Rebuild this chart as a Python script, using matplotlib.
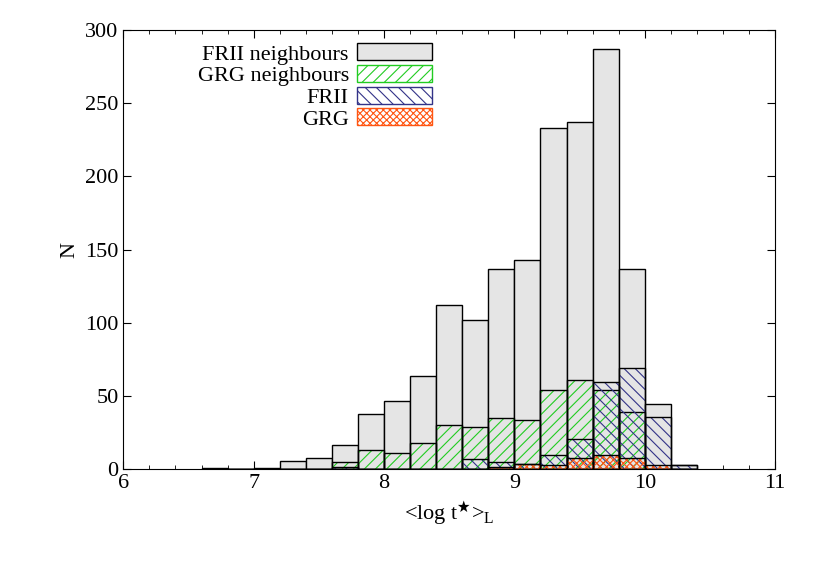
import matplotlib
matplotlib.use("Agg")
import matplotlib.pyplot as plt
import numpy as np
from matplotlib.patches import Patch

plt.rcParams['font.family'] = ['Liberation Serif', 'DejaVu Serif']
plt.rcParams['mathtext.fontset'] = 'custom'
plt.rcParams['mathtext.rm'] = 'Liberation Serif'
plt.rcParams['hatch.linewidth'] = 0.8

bin_left = [6.6, 6.8, 7.0, 7.2, 7.4, 7.6, 7.8, 8.0, 8.2, 8.4, 8.6, 8.8, 9.0, 9.2, 9.4, 9.6, 9.8, 10.0, 10.2]
frii_neigh = [1, 0, 1, 6, 8, 17, 38, 47, 64, 112, 102, 137, 143, 233, 237, 287, 137, 45, 3]
grg_neigh = [0, 0, 0, 0, 0, 5, 13, 11, 18, 30, 29, 35, 34, 54, 61, 54, 39, 0, 0]
frii = [0, 0, 0, 0, 0, 2, 0, 0, 0, 0, 7, 5, 4, 10, 21, 60, 69, 36, 3]
grg = [0, 0, 0, 0, 0, 0, 0, 0, 0, 0, 0, 2, 4, 3, 8, 10, 8, 3, 0]

w = 0.2
fig, ax = plt.subplots(figsize=(8.22, 5.76), dpi=100)
fig.subplots_adjust(left=0.15, right=0.943, top=0.948, bottom=0.185)

ax.bar(bin_left, frii_neigh, width=w, align='edge', color='#e5e5e5', edgecolor='black', linewidth=1.0)
for vals, hatch, col in [(grg_neigh, '///', '#22cc22'), (frii, '\\\\\\', '#333388'), (grg, 'xxxxx', '#ff5511')]:
    ax.bar(bin_left, vals, width=w, align='edge', color='none', edgecolor=col, hatch=hatch, linewidth=0)
    ax.bar(bin_left, vals, width=w, align='edge', color='none', edgecolor='black', linewidth=1.0)

handles = [
    Patch(facecolor='#e5e5e5', edgecolor='black', label='FRII neighbours'),
    Patch(facecolor='white', edgecolor='#22cc22', hatch='///', label='GRG neighbours'),
    Patch(facecolor='white', edgecolor='#333388', hatch='\\\\\\', label='FRII'),
    Patch(facecolor='white', edgecolor='#ff5511', hatch='xxxxx', label='GRG'),
]
ax.legend(handles=handles, loc='upper left', bbox_to_anchor=(0.09, 1.005), markerfirst=False,
          frameon=False, fontsize=16, handlelength=3.4, handleheight=0.8,
          labelspacing=0.02, handletextpad=0.35, borderaxespad=0.3)

ax.set_xlim(6, 11)
ax.set_ylim(0, 300)
ax.set_xticks([6, 7, 8, 9, 10, 11])
ax.set_yticks([0, 50, 100, 150, 200, 250, 300])
ax.set_xticks(np.arange(6, 11.01, 0.2), minor=True)
ax.tick_params(which='both', direction='in', top=True, right=True, labelsize=16)
ax.tick_params(which='major', length=6)
ax.tick_params(which='minor', length=3)
ax.set_xlabel(r'<log t$^{\bigstar}$>$_{\rm L}$', fontsize=16)
ax.set_ylabel('N', fontsize=16)
fig.savefig('out.png', dpi=100)
